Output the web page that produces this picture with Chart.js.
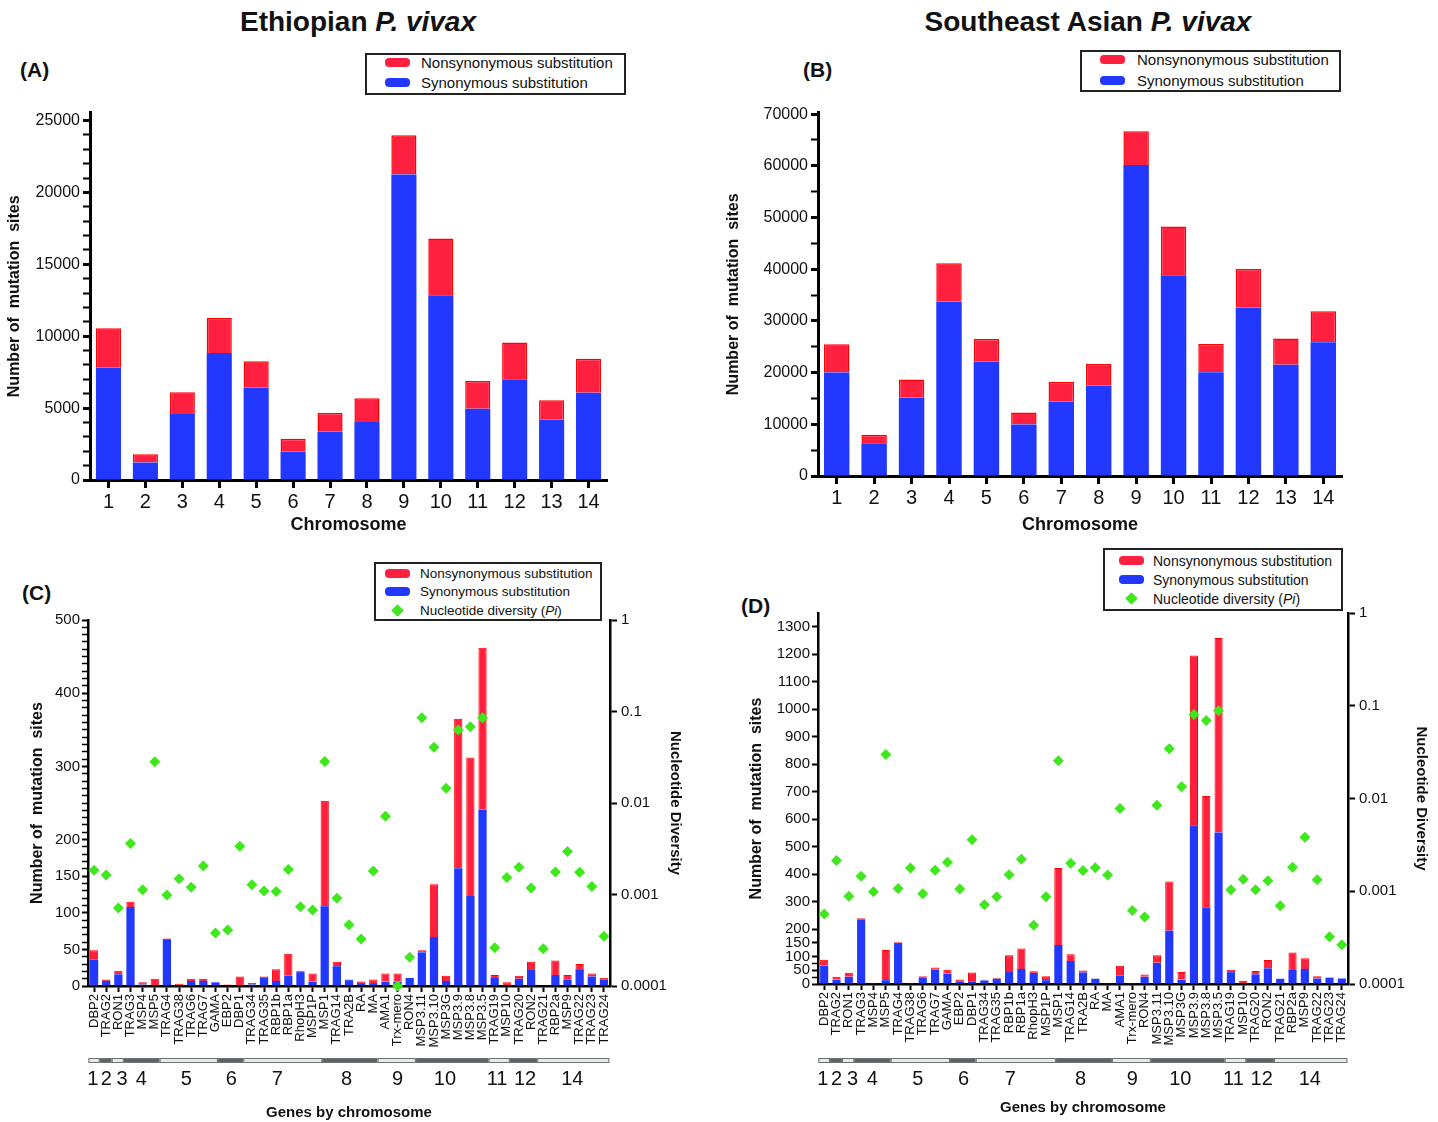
<!DOCTYPE html>
<html>
<head>
<meta charset="utf-8">
<title>Mutation sites in P. vivax</title>
<script src="https://cdn.jsdelivr.net/npm/chart.js@4.4.1/dist/chart.umd.min.js"></script>
<style>
  body { margin: 0; background: #fff; font-family: "Liberation Sans", Arial, sans-serif; color: #111; }
  #page { position: relative; width: 1438px; height: 1122px; overflow: hidden; }
  canvas { position: absolute; }
  .title { position: absolute; top: 4px; width: 420px; text-align: center; font-size: 28px; font-weight: bold; line-height: 36px; }
  .panel { position: absolute; font-size: 21px; font-weight: bold; line-height: 24px; }
  .legend { position: absolute; border: 2px solid #222; background: #fff; box-sizing: border-box; }
  .legend .txt { position: absolute; white-space: nowrap; line-height: 20px; }
  .legend .sw { position: absolute; width: 25px; height: 9px; border-radius: 4px; }
  .legend .dia { position: absolute; width: 9px; height: 9px; transform: rotate(45deg); }
</style>
</head>
<body>
<div id="page">
  <div class="title" style="left:148px">Ethiopian <i>P. vivax</i></div>
  <div class="title" style="left:878px">Southeast Asian <i>P. vivax</i></div>
  <div class="panel" style="left:20px;top:58px">(A)</div>
  <div class="panel" style="left:803px;top:58px">(B)</div>
  <div class="panel" style="left:22px;top:581px">(C)</div>
  <div class="panel" style="left:741px;top:594px">(D)</div>

  <canvas id="chartA" width="640" height="440" style="left:0;top:100px"></canvas>
  <canvas id="chartB" width="640" height="440" style="left:720px;top:100px"></canvas>
  <canvas id="chartC" width="720" height="522" style="left:0;top:600px"></canvas>
  <canvas id="chartD" width="718" height="522" style="left:720px;top:600px"></canvas>

  <div class="legend" id="legendA" style="left:365px;top:53px;width:261px;height:42px"></div>
  <div class="legend" id="legendB" style="left:1080px;top:50px;width:261px;height:42px"></div>
  <div class="legend" id="legendC" style="left:374px;top:562px;width:228px;height:59px"></div>
  <div class="legend" id="legendD" style="left:1103px;top:548px;width:240px;height:63px"></div>
</div>

<script>
// Data: chromosomes (panels A and B)
const chromosomes = ['1', '2', '3', '4', '5', '6', '7', '8', '9', '10', '11', '12', '13', '14'];
const ethSyn    = [7800, 1215, 4590, 8830, 6420, 1970, 3350, 4040, 21240, 12840, 4950, 7000, 4200, 6060];
const ethNonsyn = [2750, 575, 1510, 2430, 1840, 900, 1310, 1650, 2730, 3950, 1930, 2560, 1350, 2380];
const seaSyn    = [20020, 6330, 15140, 33700, 22170, 9950, 14380, 17480, 60180, 38830, 20080, 32560, 21540, 25850];
const seaNonsyn = [5450, 1650, 3550, 7480, 4310, 2340, 3860, 4190, 6530, 9440, 5450, 7480, 5070, 6010];

// Data: genes (panels C and D)
const genes = ['DBP2', 'TRAG2', 'RON1', 'TRAG3', 'MSP4', 'MSP5', 'TRAG4', 'TRAG38', 'TRAG6', 'TRAG7', 'GAMA',
  'EBP2', 'DBP1', 'TRAG34', 'TRAG35', 'RBP1b', 'RBP1a', 'RhopH3', 'MSP1P', 'MSP1', 'TRAG14', 'TRA2B', 'RA', 'MA',
  'AMA1', 'Trx-mero', 'RON4', 'MSP3.11', 'MSP3.10', 'MSP3G', 'MSP3.9', 'MSP3.8', 'MSP3.5', 'TRAG19', 'MSP10',
  'TRAG20', 'RON2', 'TRAG21', 'RBP2a', 'MSP9', 'TRAG22', 'TRAG23', 'TRAG24'];

const ethGeneSyn    = [36, 7, 16, 108, 2, 1, 64, 1, 7, 7, 5, 0, 0, 2, 11, 7, 14, 19, 6, 109, 27, 8, 4, 4,
  6, 6, 11, 46, 67, 7, 161, 123, 241, 11, 0, 10, 22, 0, 15, 9, 23, 13, 9];
const ethGeneNonsyn = [13, 2, 5, 7, 3, 9, 1, 2, 3, 3, 0, 2, 13, 2, 2, 16, 30, 2, 11, 144, 6, 1, 2, 5,
  11, 11, 0, 3, 72, 7, 204, 189, 221, 4, 5, 4, 11, 0, 20, 6, 7, 4, 2];
const ethGenePi     = [0.00184, 0.00163, 0.00071, 0.00362, 0.00113, 0.0282, 0.00099, 0.00149, 0.0012, 0.00205,
  0.00038, 0.00041, 0.00337, 0.00128, 0.00109, 0.00108, 0.00188, 0.000736, 0.000677, 0.0285, 0.000909, 0.000468,
  0.000327, 0.00181, 0.00715, 0.0001, 0.000206, 0.0855, 0.0406, 0.0145, 0.0628, 0.0683, 0.0855, 0.000262,
  0.00153, 0.00198, 0.00118, 0.000256, 0.00176, 0.00296, 0.00175, 0.00122, 0.000349];

const seaGeneSyn    = [66, 16, 26, 235, 0, 14, 149, 0, 24, 52, 38, 10, 10, 13, 19, 44, 55, 40, 14, 142, 84, 42, 19, 0,
  31, 0, 26, 77, 194, 16, 578, 279, 551, 43, 0, 35, 57, 19, 51, 55, 20, 23, 20];
const seaGeneNonsyn = [22, 10, 15, 4, 5, 110, 3, 5, 4, 8, 14, 6, 32, 1, 4, 61, 74, 6, 14, 280, 24, 7, 1, 4,
  35, 4, 9, 28, 179, 28, 617, 405, 708, 9, 12, 12, 30, 0, 64, 39, 8, 1, 0];
const seaGenePi     = [0.000569, 0.00215, 0.000886, 0.00145, 0.000986, 0.0299, 0.00107, 0.00178, 0.000938, 0.00168,
  0.00206, 0.00106, 0.0036, 0.000716, 0.000871, 0.00151, 0.00222, 0.00043, 0.000871, 0.0255, 0.002, 0.00167,
  0.00179, 0.0015, 0.00778, 0.000622, 0.000528, 0.00845, 0.0343, 0.0134, 0.0805, 0.0695, 0.0881, 0.00104,
  0.00135, 0.00104, 0.0013, 0.000698, 0.00181, 0.00381, 0.00133, 0.000323, 0.000265];

// Chromosome strip under the gene names (gene-index units)
const stripLabels = ['1', '2', '3', '4', '5', '6', '7', '8', '9', '10', '11', '12', '14'];
const stripEdges  = [-0.47, 0.47, 1.45, 2.45, 5.4, 10.2, 12.3, 18.8, 23.35, 26.5, 32.5, 34.25, 36.5, 42.45];
const stripLabelAt = [-0.1, 1.0, 2.3, 3.9, 7.6, 11.3, 15.1, 20.8, 25.0, 28.9, 33.2, 35.5, 39.4];

// Tick values
const ticksA = [];
for (let v = 0; v <= 25000; v += 1000) ticksA.push(v);
const ticksB = [];
for (let v = 0; v <= 70000; v += 5000) ticksB.push(v);
const ticksC = [];
for (let v = 0; v <= 500; v += 10) ticksC.push(v);
const labelsC = [0, 50, 100, 150, 200, 300, 400, 500];
const ticksD = [0, 25, 50, 75, 100, 150, 200, 300, 400, 500, 600, 700, 800, 900, 1000, 1100, 1200, 1300];
const labelsD = [0, 50, 100, 150, 200, 300, 400, 500, 600, 700, 800, 900, 1000, 1100, 1200, 1300];
const piTicks = [0.0001, 0.001, 0.01, 0.1, 1];

// Colours
const RED = '#ff1f3f';
const RED_EDGE = '#ff0000';
const BLUE = '#2338ff';
const GREEN = '#3fe81c';

Chart.defaults.font.family = '"Liberation Sans", Arial, sans-serif';
Chart.defaults.color = '#111';

function fixWidth(w) { return s => { s.width = w; }; }
function fixHeight(h) { return s => { s.height = h; }; }

// Plugin: grey/white chromosome strip with numbers below the gene labels
const chromStrip = {
  id: 'chromStrip',
  afterDraw(chart, args, opts) {
    if (!opts.edges) return;
    const { ctx, chartArea } = chart;
    const x = chart.scales.x;
    const y = chartArea.bottom + opts.gap;
    ctx.save();
    for (let i = 0; i < opts.labels.length; i++) {
      const x0 = x.getPixelForValue(opts.edges[i]);
      const x1 = x.getPixelForValue(opts.edges[i + 1]);
      ctx.fillStyle = i % 2 ? '#5d6667' : '#e9e9e9';
      ctx.fillRect(x0, y, x1 - x0, 5);
      ctx.strokeStyle = '#6a7273';
      ctx.lineWidth = 1;
      ctx.strokeRect(x0 + 0.5, y + 0.5, x1 - x0 - 1, 4);
    }
    ctx.fillStyle = '#111';
    ctx.font = '20px "Liberation Sans", Arial, sans-serif';
    ctx.textAlign = 'center';
    ctx.textBaseline = 'middle';
    opts.labels.forEach((t, i) => ctx.fillText(t, x.getPixelForValue(opts.labelAt[i]), y + 21));
    ctx.restore();
  }
};

// Panels A and B: mutation sites per chromosome
function chromosomeChart(id, syn, nonsyn, o) {
  return new Chart(document.getElementById(id), {
    type: 'bar',
    data: {
      labels: chromosomes,
      datasets: [
        { label: 'Synonymous substitution', data: syn, backgroundColor: BLUE, borderWidth: 0 },
        { label: 'Nonsynonymous substitution', data: nonsyn, backgroundColor: RED, borderColor: RED_EDGE, borderWidth: 1.5 }
      ]
    },
    options: {
      responsive: false,
      animation: false,
      devicePixelRatio: 1,
      layout: { padding: o.padding },
      datasets: { bar: { barPercentage: 0.68, categoryPercentage: 1 } },
      plugins: { legend: { display: false }, tooltip: { enabled: false } },
      scales: {
        x: {
          stacked: true,
          border: { color: '#000', width: 3 },
          grid: { drawOnChartArea: false, offset: false, tickLength: 8, tickWidth: 3, tickColor: '#000' },
          ticks: { font: { size: 20 }, padding: 2 },
          title: { display: true, text: 'Chromosome', font: { size: 18, weight: 'bold' }, padding: { top: 0, bottom: 4 } },
          afterFit: fixHeight(o.xHeight)
        },
        y: {
          stacked: true,
          min: 0,
          max: o.max,
          border: { color: '#000', width: 3 },
          grid: {
            drawOnChartArea: false, tickLength: 7, tickColor: '#000',
            tickWidth: c => (c.tick && c.tick.value % o.major === 0 ? 3 : 2)
          },
          afterBuildTicks: s => { s.ticks = o.ticks.map(v => ({ value: v })); },
          ticks: { autoSkip: false, font: { size: 16 }, padding: 3, callback: v => (v % o.major === 0 ? v : '') },
          title: { display: true, text: 'Number of  mutation  sites', font: { size: 16, weight: 'bold' }, padding: { top: o.yTitlePad } },
          afterFit: fixWidth(o.yWidth)
        }
      }
    }
  });
}

// Panels C and D: mutation sites and nucleotide diversity per gene
function geneChart(id, syn, nonsyn, pi, o) {
  return new Chart(document.getElementById(id), {
    type: 'bar',
    data: {
      labels: genes,
      datasets: [
        {
          type: 'line', label: 'Nucleotide diversity (Pi)', data: pi, yAxisID: 'y1', showLine: false, clip: false,
          pointStyle: 'rectRot', pointRadius: 5.5, pointBackgroundColor: GREEN, pointBorderWidth: 0
        },
        { label: 'Synonymous substitution', data: syn, yAxisID: 'y', backgroundColor: BLUE, borderWidth: 0 },
        { label: 'Nonsynonymous substitution', data: nonsyn, yAxisID: 'y', backgroundColor: RED, borderColor: RED_EDGE, borderWidth: 1 }
      ]
    },
    plugins: [chromStrip],
    options: {
      responsive: false,
      animation: false,
      devicePixelRatio: 1,
      layout: { padding: o.padding },
      datasets: { bar: { barPercentage: o.barPct, categoryPercentage: 1 } },
      plugins: {
        legend: { display: false },
        tooltip: { enabled: false },
        chromStrip: { edges: stripEdges, labels: stripLabels, labelAt: stripLabelAt, gap: o.stripGap }
      },
      scales: {
        x: {
          stacked: true,
          border: { color: '#000', width: 2.5 },
          grid: { drawOnChartArea: false, offset: false, tickLength: 6, tickWidth: 2, tickColor: '#000' },
          ticks: { autoSkip: false, minRotation: 90, maxRotation: 90, font: { size: 13 }, padding: 2 },
          title: { display: true, text: 'Genes by chromosome', font: { size: 15, weight: 'bold' }, padding: { top: 0, bottom: o.xTitlePad } },
          afterFit: fixHeight(o.xHeight)
        },
        y: {
          stacked: true,
          min: 0,
          max: o.max,
          border: { color: '#000', width: 2.5 },
          grid: {
            drawOnChartArea: false, tickLength: 6, tickColor: '#000',
            tickWidth: c => (c.tick && o.labels.includes(c.tick.value) ? 2 : 1.5)
          },
          afterBuildTicks: s => { s.ticks = o.ticks.map(v => ({ value: v })); },
          ticks: { autoSkip: false, font: { size: 15 }, padding: 2, callback: v => (o.labels.includes(v) ? v : '') },
          title: { display: true, text: 'Number of  mutation  sites', font: { size: 16, weight: 'bold' }, padding: { top: o.yTitlePad } },
          afterFit: fixWidth(o.yWidth)
        },
        y1: {
          type: 'logarithmic',
          position: 'right',
          min: 0.0001,
          max: 1,
          border: { color: '#000', width: 2.5 },
          grid: { drawOnChartArea: false, tickLength: 7, tickWidth: 2, tickColor: '#000' },
          afterBuildTicks: s => { s.ticks = piTicks.map(v => ({ value: v })); },
          ticks: { autoSkip: false, font: { size: 15 }, padding: 4, callback: v => String(v) },
          title: { display: true, text: 'Nucleotide Diversity', font: { size: 15, weight: 'bold' }, padding: { top: o.y1TitlePad } },
          afterFit: fixWidth(o.y1Width)
        }
      }
    }
  });
}

// Legend boxes
function legendHtml(items, swLeft, textLeft, rows, size) {
  return items.map((it, i) => {
    const c = rows[i];
    const mark = it.diamond
      ? `<div class="dia" style="left:${swLeft + 8}px;top:${c - 5}px;background:${it.color}"></div>`
      : `<div class="sw" style="left:${swLeft}px;top:${c - 5}px;background:${it.color}"></div>`;
    return mark + `<div class="txt" style="left:${textLeft}px;top:${c - 10}px;font-size:${size}px">${it.text}</div>`;
  }).join('');
}

const barItems = [
  { text: 'Nonsynonymous substitution', color: RED },
  { text: 'Synonymous substitution', color: BLUE }
];
const geneItems = barItems.concat([{ text: 'Nucleotide diversity (<i>Pi</i>)', color: GREEN, diamond: true }]);

document.getElementById('legendA').innerHTML = legendHtml(barItems, 18, 54, [8, 28], 15);
document.getElementById('legendB').innerHTML = legendHtml(barItems, 18, 55, [8, 29], 15);
document.getElementById('legendC').innerHTML = legendHtml(geneItems, 9, 44, [10, 28, 47], 13.5);
document.getElementById('legendD').innerHTML = legendHtml(geneItems, 14, 48, [11, 30, 49], 14);

// Build the four panels
chromosomeChart('chartA', ethSyn, ethNonsyn, {
  padding: { left: 0, top: 8, right: 33, bottom: 0 },
  xHeight: 60, yWidth: 90, yTitlePad: 5, max: 25550, major: 5000, ticks: ticksA
});
chromosomeChart('chartB', seaSyn, seaNonsyn, {
  padding: { left: 0, top: 8, right: 18, bottom: 0 },
  xHeight: 64, yWidth: 98, yTitlePad: 4, max: 70300, major: 10000, ticks: ticksB
});
geneChart('chartC', ethGeneSyn, ethGeneNonsyn, ethGenePi, {
  padding: { left: 0, top: 20, right: 30, bottom: 0 },
  xHeight: 136, yWidth: 88, y1Width: 80, yTitlePad: 28, y1TitlePad: 6, xTitlePad: 0,
  max: 500, ticks: ticksC, labels: labelsC, barPct: 0.68, stripGap: 72
});
geneChart('chartD', seaGeneSyn, seaGeneNonsyn, seaGenePi, {
  padding: { left: 0, top: 10, right: 5, bottom: 0 },
  xHeight: 138, yWidth: 98, y1Width: 85, yTitlePad: 27, y1TitlePad: 3, xTitlePad: 5,
  max: 1350, ticks: ticksD, labels: labelsD, barPct: 0.66, stripGap: 74
});
</script>
</body>
</html>
